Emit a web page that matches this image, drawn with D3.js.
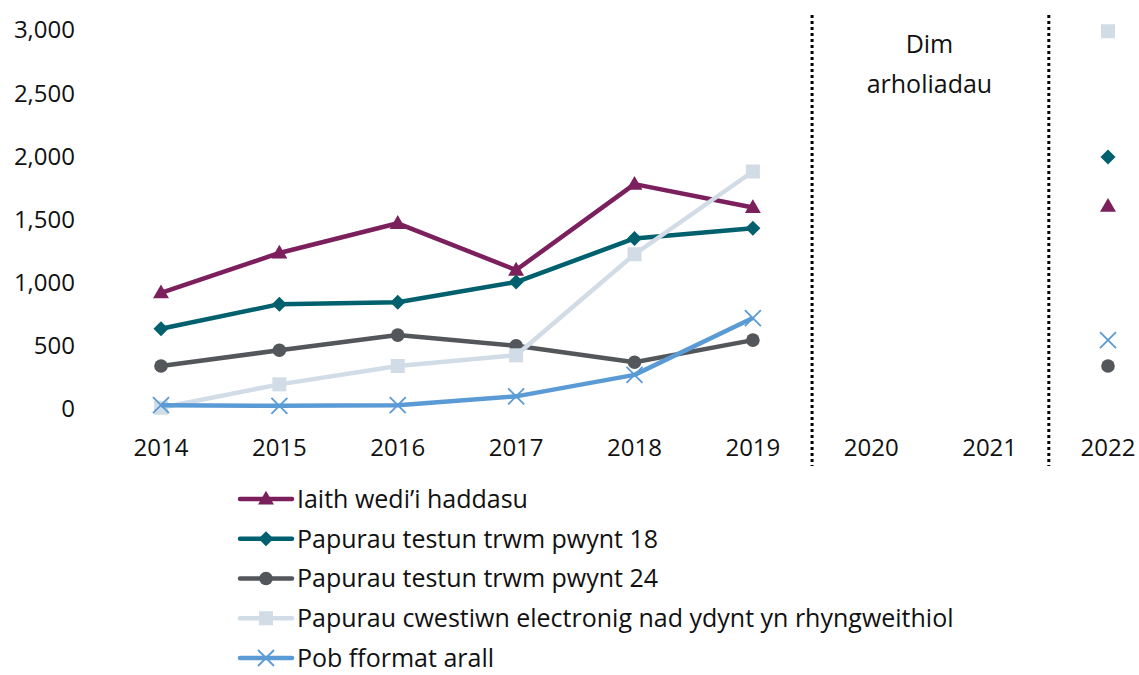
<!DOCTYPE html>
<html>
<head>
<meta charset="utf-8">
<script src="https://cdn.jsdelivr.net/npm/d3@7"></script>
<style>
  body { margin: 0; background: #fff; }
  svg { font-family: "Open Sans", "Noto Sans", sans-serif; }
</style>
</head>
<body>
<svg id="chart" width="1139" height="675"></svg>
<script>
var years = ['2014', '2015', '2016', '2017', '2018', '2019', '2020', '2021', '2022'];
var yTicks = [0, 500, 1000, 1500, 2000, 2500, 3000];

// values per year (null = no exams)
var iaith      = [920, 1235, 1470, 1100, 1780, 1595, null, null, 1605];
var pwynt18    = [635, 830, 845, 1005, 1350, 1430, null, null, 1995];
var pwynt24    = [340, 465, 585, 500, 370, 545, null, null, 340];
var electronig = [10, 195, 340, 425, 1225, 1880, null, null, 2990];
var arall      = [30, 25, 30, 100, 270, 720, null, null, 545];

var seriesNames = [
  'Iaith wedi\u2019i haddasu',
  'Papurau testun trwm pwynt 18',
  'Papurau testun trwm pwynt 24',
  'Papurau cwestiwn electronig nad ydynt yn rhyngweithiol',
  'Pob fformat arall'
];
var seriesColors = ['#7B1F5D', '#00606E', '#53565A', '#D1DCE6', '#5B9BD5'];
var seriesMarkers = ['triangle', 'diamond', 'circle', 'square', 'cross'];
var seriesValues = [iaith, pwynt18, pwynt24, electronig, arall];

var svg = d3.select('#chart');

var x = d3.scalePoint().domain(years).range([161, 1108]);
var y = d3.scaleLinear().domain([0, 3000]).range([409, 30]);

// Y axis labels
svg.append('g').selectAll('text')
  .data(yTicks).enter().append('text')
  .attr('x', 75).attr('y', function (d) { return y(d); })
  .attr('dy', '0.35em').attr('text-anchor', 'end')
  .style('font-size', '24px').attr('fill', '#111')
  .text(function (d) { return d3.format(',')(d); });

// X axis labels
svg.append('g').selectAll('text')
  .data(years).enter().append('text')
  .attr('x', function (d) { return x(d); }).attr('y', 448)
  .attr('dy', '0.35em').attr('text-anchor', 'middle')
  .style('font-size', '24px').attr('fill', '#111')
  .text(function (d) { return d; });

// dotted separators
[['2019', '2020'], ['2021', '2022']].forEach(function (p) {
  var xm = (x(p[0]) + x(p[1])) / 2;
  svg.append('line')
    .attr('x1', xm).attr('x2', xm).attr('y1', 15).attr('y2', 466)
    .attr('stroke', '#000').attr('stroke-width', 3)
    .attr('stroke-dasharray', '3,3');
});

// "Dim arholiadau"
var midX = (x('2020') + x('2021')) / 2;
svg.append('text').attr('x', midX - 1).attr('y', 44).attr('dy', '0.35em')
  .attr('text-anchor', 'middle').style('font-size', '25px').attr('fill', '#111')
  .text('Dim');
svg.append('text').attr('x', midX - 1).attr('y', 84).attr('dy', '0.35em')
  .attr('text-anchor', 'middle').style('font-size', '25px').attr('fill', '#111')
  .text('arholiadau');

function drawMarker(g, type, color, cx, cy) {
  if (type === 'triangle') {
    g.append('path').attr('d', d3.symbol().type(d3.symbolTriangle).size(110)())
      .attr('transform', 'translate(' + cx + ',' + (cy + 1) + ')').attr('fill', color);
  } else if (type === 'diamond') {
    g.append('path').attr('d', 'M0,-7.5L7.5,0L0,7.5L-7.5,0Z')
      .attr('transform', 'translate(' + cx + ',' + cy + ')').attr('fill', color);
  } else if (type === 'circle') {
    g.append('circle').attr('cx', cx).attr('cy', cy).attr('r', 6.8).attr('fill', color);
  } else if (type === 'square') {
    g.append('rect').attr('x', cx - 7).attr('y', cy - 7)
      .attr('width', 14).attr('height', 14).attr('fill', color);
  } else if (type === 'cross') {
    g.append('path').attr('d', 'M-8,-8L8,8M-8,8L8,-8')
      .attr('transform', 'translate(' + cx + ',' + cy + ')')
      .attr('stroke', color).attr('stroke-width', 1.8).attr('fill', 'none');
  }
}

var line = d3.line()
  .defined(function (d) { return d.v !== null; })
  .x(function (d) { return x(d.year); })
  .y(function (d) { return y(d.v); });

seriesValues.forEach(function (vals, i) {
  var pts = vals.map(function (v, j) { return { year: years[j], v: v }; });
  var g = svg.append('g');
  g.append('path').datum(pts.slice(0, 6))
    .attr('d', line).attr('fill', 'none')
    .attr('stroke', seriesColors[i]).attr('stroke-width', 4.5)
    .attr('stroke-linejoin', 'round');
  pts.forEach(function (p) {
    if (p.v !== null) drawMarker(g, seriesMarkers[i], seriesColors[i], x(p.year), y(p.v));
  });
});

// legend
var leg = svg.append('g');
seriesNames.forEach(function (name, i) {
  var ly = 499 + i * 39.75;
  var row = leg.append('g');
  row.append('line').attr('x1', 240).attr('x2', 292).attr('y1', ly).attr('y2', ly)
    .attr('stroke', seriesColors[i]).attr('stroke-width', 4.5).attr('stroke-linecap', 'round');
  drawMarker(row, seriesMarkers[i], seriesColors[i], 266, ly);
  row.append('text').attr('x', 297).attr('y', ly).attr('dy', '0.35em')
    .style('font-size', '25px').attr('fill', '#111').text(name);
});
</script>
</body>
</html>
